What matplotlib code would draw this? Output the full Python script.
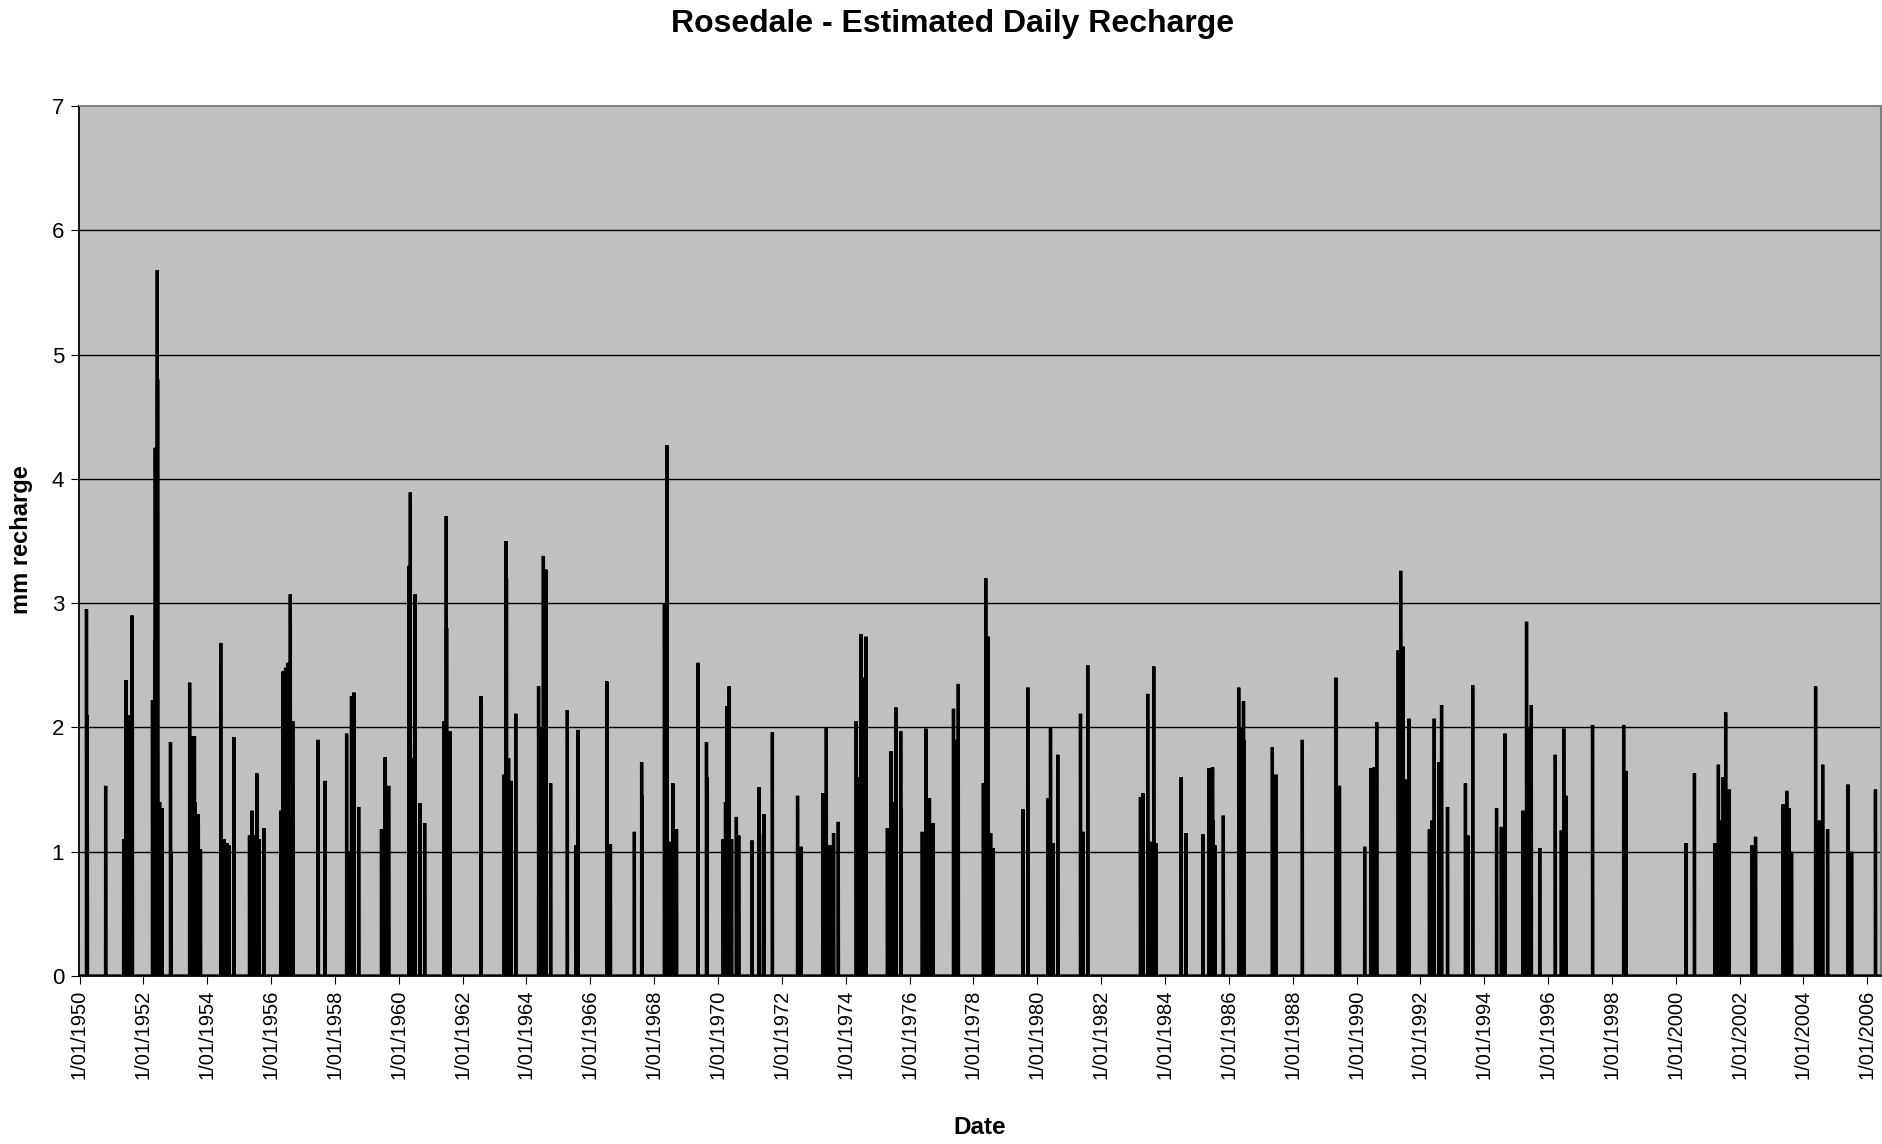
import matplotlib
matplotlib.use("Agg")
import matplotlib.pyplot as plt
import numpy as np
import pandas as pd

plt.rcParams['font.family'] = ['Liberation Sans', 'DejaVu Sans']

# Recharge events (date, mm); all other days are zero
event_dates = [
    "1950-03-22", "1950-03-26", "1950-04-01", "1950-10-27",
    "1951-05-21", "1951-06-17", "1951-06-21", "1951-07-14", "1951-08-25", "1951-08-29",
    "1952-04-15", "1952-05-12", "1952-05-17", "1952-06-09", "1952-06-13", "1952-07-06",
    "1952-08-03", "1952-11-07", "1952-11-11",
    "1953-06-14", "1953-07-11", "1953-08-08", "1953-08-12", "1953-09-18", "1953-09-22", "1953-10-16",
    "1954-06-05", "1954-07-16", "1954-08-13", "1954-09-09", "1954-11-03",
    "1955-04-30", "1955-05-28", "1955-06-25", "1955-07-23", "1955-08-19", "1955-10-12",
    "1956-04-21", "1956-05-19", "1956-06-16", "1956-07-13", "1956-08-09", "1956-09-06", "1956-09-10",
    "1957-06-21", "1957-06-25", "1957-09-11",
    "1958-05-15", "1958-06-12", "1958-07-10", "1958-08-06", "1958-09-30",
    "1959-06-18", "1959-07-30", "1959-09-08",
    "1960-04-29", "1960-05-13", "1960-06-10", "1960-07-01", "1960-07-07", "1960-09-01", "1960-10-24",
    "1961-05-31", "1961-06-28", "1961-07-02", "1961-08-08",
    "1962-07-30",
    "1963-04-17", "1963-05-14", "1963-05-18", "1963-06-11", "1963-07-08", "1963-09-01",
    "1964-05-19", "1964-06-15", "1964-07-13", "1964-08-10", "1964-10-04",
    "1965-04-13", "1965-07-19", "1965-08-15",
    "1966-07-09", "1966-07-13", "1966-08-19",
    "1967-05-20", "1967-08-11", "1967-08-15",
    "1968-04-28", "1968-05-26", "1968-06-22", "1968-08-03", "1968-08-07", "1968-09-13",
    "1969-05-18", "1969-08-22", "1969-08-26",
    "1970-03-01", "1970-03-28", "1970-04-11", "1970-05-09", "1970-06-05", "1970-07-30", "1970-08-26",
    "1971-01-24", "1971-04-17", "1971-04-21", "1971-06-10", "1971-09-15",
    "1972-06-29", "1972-08-09",
    "1973-04-13", "1973-05-24", "1973-07-05", "1973-08-15", "1973-10-08",
    "1974-05-01", "1974-05-29", "1974-06-25", "1974-07-23", "1974-08-20",
    "1975-04-23", "1975-06-03", "1975-07-01", "1975-07-29", "1975-09-22", "1975-09-26",
    "1976-05-26", "1976-07-06", "1976-08-16", "1976-09-26",
    "1977-05-18", "1977-06-15", "1977-07-12",
    "1978-04-25", "1978-05-22", "1978-06-19", "1978-07-17", "1978-08-13",
    "1979-07-22", "1979-09-15",
    "1980-05-05", "1980-06-01", "1980-06-29", "1980-08-23",
    "1981-05-10", "1981-06-07", "1981-08-01",
    "1983-03-27", "1983-04-24", "1983-06-18", "1983-07-29", "1983-08-26", "1983-09-21",
    "1984-07-05", "1984-08-29",
    "1985-03-10", "1985-05-18", "1985-06-29", "1985-07-03", "1985-07-26",
    "1985-10-30", "1986-04-24", "1986-05-22", "1986-06-18", "1986-06-22",
    "1987-05-14", "1987-06-24",
    "1988-04-21",
    "1989-05-10", "1989-05-14", "1989-06-20",
    "1990-04-04", "1990-06-12", "1990-07-23", "1990-08-20",
    "1991-04-23", "1991-05-21", "1991-06-18", "1991-07-15", "1991-08-25",
    "1992-04-14", "1992-05-12", "1992-06-08", "1992-08-03", "1992-08-31",
    "1992-11-07", "1993-05-31", "1993-06-28", "1993-08-22",
    "1994-05-22", "1994-07-16", "1994-08-26",
    "1995-03-20", "1995-04-30", "1995-05-28", "1995-06-24", "1995-09-28",
    "1996-03-24", "1996-06-01", "1996-06-29", "1996-07-26",
    "1997-05-24",
    "1998-05-15", "1998-06-11",
    "2000-04-28", "2000-08-02",
    "2001-03-23", "2001-05-03", "2001-05-31", "2001-06-27", "2001-07-25", "2001-09-03",
    "2002-05-22", "2002-07-02",
    "2003-05-14", "2003-06-24", "2003-07-22", "2003-08-18",
    "2004-05-19", "2004-06-29", "2004-08-08",
    "2004-10-03", "2005-05-25", "2005-07-05",
    "2006-04-04",
]
event_values = [
    2.95, 2.10, 1.20, 1.53,
    1.10, 2.38, 1.75, 2.10, 2.90, 2.05,
    2.22, 2.70, 4.25, 5.68, 4.80, 1.40,
    1.35, 1.88, 1.00,
    2.36, 1.93, 1.93, 1.40, 1.30, 1.22, 1.02,
    2.68, 1.10, 1.07, 1.05, 1.92,
    1.13, 1.33, 1.13, 1.63, 1.10, 1.19,
    1.33, 2.45, 2.48, 2.52, 3.07, 2.05, 1.20,
    1.90, 1.75, 1.57,
    1.95, 1.00, 2.25, 2.28, 1.36,
    1.18, 1.76, 1.53,
    3.30, 3.89, 1.75, 1.86, 3.07, 1.39, 1.23,
    2.05, 3.70, 2.80, 1.97,
    2.25,
    1.62, 3.50, 3.20, 1.75, 1.57, 2.11,
    2.33, 2.00, 3.38, 3.27, 1.55,
    2.14, 1.05, 1.98,
    2.37, 2.20, 1.06,
    1.16, 1.72, 1.45,
    3.00, 4.27, 1.08, 1.55, 1.30, 1.18,
    2.52, 1.88, 1.60,
    1.10, 1.40, 2.17, 2.33, 1.10, 1.28, 1.13,
    1.09, 1.52, 1.14, 1.30, 1.96,
    1.45, 1.04,
    1.47, 2.00, 1.05, 1.15, 1.24,
    2.05, 1.60, 2.75, 2.40, 2.73,
    1.19, 1.81, 1.40, 2.16, 1.97, 1.35,
    1.16, 1.99, 1.43, 1.23,
    2.15, 1.90, 2.35,
    1.55, 3.20, 2.73, 1.15, 1.03,
    1.34, 2.32,
    1.43, 2.00, 1.07, 1.78,
    2.11, 1.16, 2.50,
    1.44, 1.47, 2.27, 1.08, 2.49, 1.07,
    1.60, 1.15,
    1.14, 1.67, 1.68, 1.25, 1.05,
    1.29, 2.32, 2.00, 2.21, 1.90,
    1.84, 1.62,
    1.90,
    2.40, 2.10, 1.53,
    1.04, 1.67, 1.68, 2.04,
    2.62, 3.26, 2.65, 1.58, 2.07,
    1.18, 1.25, 2.07, 1.72, 2.18,
    1.36, 1.55, 1.13, 2.34,
    1.35, 1.20, 1.95,
    1.33, 2.85, 2.00, 2.18, 1.03,
    1.78, 1.17, 1.99, 1.45,
    2.02,
    2.02, 1.65,
    1.07, 1.63,
    1.07, 1.70, 1.25, 1.60, 2.12, 1.50,
    1.05, 1.12,
    1.38, 1.49, 1.35, 1.00,
    2.33, 1.25, 1.70,
    1.18, 1.54, 1.00,
    1.50,
]

y_ticks = [0, 1, 2, 3, 4, 5, 6, 7]
tick_years = list(range(1950, 2007, 2))

# Build daily series
days = pd.date_range("1950-01-01", "2006-06-12", freq="D")
series = pd.Series(0.0, index=days)
for d, v in zip(event_dates, event_values):
    series[pd.Timestamp(d)] = v

W, H = 1883, 1144
fig = plt.figure(figsize=(W / 100, H / 100), dpi=100)
fig.patch.set_facecolor("white")
ax = fig.add_axes([79.5 / W, 1 - 976 / H, (1881.5 - 79.5) / W, (976 - 106) / H])
ax.set_facecolor("#C0C0C0")

ax.plot(series.index, series.values, color="black", lw=2.4, zorder=3,
        solid_joinstyle="miter")

ax.set_ylim(0, 7)
ax.set_yticks(y_ticks)
ax.set_xlim(pd.Timestamp("1950-01-01"), pd.Timestamp("2006-06-12"))
ticks = [pd.Timestamp(f"{y}-01-01") for y in tick_years]
ax.set_xticks(ticks)
ax.set_xticklabels([f"1/01/{y}" for y in tick_years], rotation=90, fontsize=14.5)
ax.tick_params(axis="y", labelsize=16, length=6, direction="out", pad=5)
ax.tick_params(axis="x", length=6, direction="out", pad=4)

for v in y_ticks[1:-1]:
    ax.axhline(v, color="black", lw=1.0, zorder=2)

for s in ["top", "right"]:
    ax.spines[s].set_color("#808080")
    ax.spines[s].set_linewidth(1.5)
for s in ["left", "bottom"]:
    ax.spines[s].set_color("black")
    ax.spines[s].set_linewidth(1.3)

fig.text(0.506, 1 - 24 / H, "Rosedale - Estimated Daily Recharge",
         ha="center", va="center", fontsize=23, fontweight="bold")
fig.text(980 / W, 1 - 1128 / H, "Date", ha="center", va="center",
         fontsize=17.5, fontweight="bold")
fig.text(22 / W, 1 - 540 / H, "mm recharge", ha="center", va="center",
         rotation=90, fontsize=17, fontweight="bold")

fig.savefig("out.png", dpi=100)
